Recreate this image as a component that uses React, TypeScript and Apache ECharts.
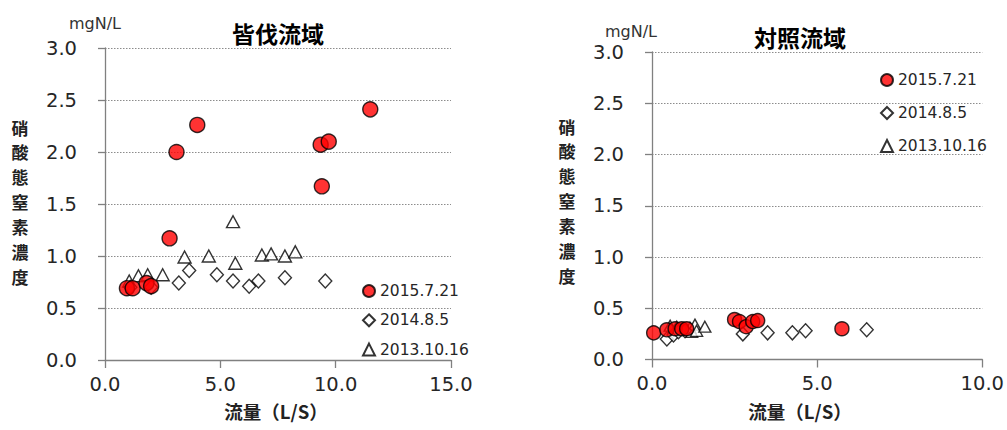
import React, { useEffect, useRef } from "react";
import * as echarts from "echarts";

// ---- data ----
const seriesNames = ["2015.7.21", "2014.8.5", "2013.10.16"];
const yTicks = [0, 0.5, 1.0, 1.5, 2.0, 2.5, 3.0];
const yTitleChars = ["硝", "酸", "態", "窒", "素", "濃", "度"];

// 皆伐流域 (left)
const leftRedX = [0.95, 1.2, 1.8, 2.0, 2.8, 3.1, 4.0, 9.35, 9.7, 9.4, 11.5];
const leftRedY = [0.69, 0.69, 0.74, 0.71, 1.17, 2.0, 2.26, 2.07, 2.1, 1.67, 2.41];
const leftDiaX = [1.1, 2.0, 3.2, 3.65, 4.85, 5.55, 6.25, 6.65, 7.8, 9.55];
const leftDiaY = [0.7, 0.7, 0.74, 0.86, 0.82, 0.76, 0.71, 0.76, 0.79, 0.76];
const leftTriX = [1.05, 1.45, 1.85, 2.5, 3.45, 4.5, 5.55, 5.65, 6.8, 7.2, 7.8, 8.25];
const leftTriY = [0.76, 0.81, 0.82, 0.82, 0.99, 1.0, 1.33, 0.93, 1.01, 1.02, 1.0, 1.04];

// 対照流域 (right)
const rightRedX = [0.05, 0.45, 0.7, 0.9, 1.05, 2.5, 2.65, 2.85, 3.05, 3.2, 5.75];
const rightRedY = [0.26, 0.29, 0.3, 0.3, 0.3, 0.39, 0.37, 0.32, 0.37, 0.38, 0.3];
const rightDiaX = [0.45, 0.65, 0.8, 1.0, 2.75, 3.5, 4.25, 4.65, 6.5];
const rightDiaY = [0.2, 0.24, 0.27, 0.28, 0.25, 0.26, 0.26, 0.28, 0.29];
const rightTriX = [0.55, 0.75, 0.95, 1.15, 1.2, 1.3, 1.35, 1.6];
const rightTriY = [0.33, 0.32, 0.3, 0.31, 0.27, 0.34, 0.28, 0.32];

const zip = (xs: number[], ys: number[]) => xs.map((x, i) => [x, ys[i]]);

const NUM_FONT = "DejaVu Sans";
const CJK_FONT = "Noto Sans CJK JP";

export default function App() {
  const ref = useRef<HTMLDivElement>(null);

  useEffect(() => {
    if (!ref.current) return;
    const chart = echarts.init(ref.current, null, { renderer: "svg" });

    const yAxisBase = (gridIndex: number) => ({
      type: "value",
      gridIndex,
      min: yTicks[0],
      max: yTicks[yTicks.length - 1],
      interval: 0.5,
      axisLine: { show: true, lineStyle: { color: "#808080", width: 1.3 } },
      axisTick: { show: true, length: 7, lineStyle: { color: "#808080", width: 1.3 } },
      axisLabel: {
        margin: 28,
        fontSize: 19.5,
        fontFamily: NUM_FONT,
        color: "#262626",
        formatter: (v: number) => v.toFixed(1),
      },
      splitLine: { show: true, lineStyle: { color: "#8c8c8c", type: [1.5, 1.5], width: 1 } },
    });

    const xAxisBase = (gridIndex: number, max: number) => ({
      type: "value",
      gridIndex,
      min: 0,
      max,
      interval: 5,
      axisLine: { show: true, onZero: false, lineStyle: { color: "#808080", width: 1.3 } },
      axisTick: { show: true, inside: false, length: 8, lineStyle: { color: "#808080", width: 1.3 } },
      axisLabel: {
        margin: 14,
        fontSize: 19.5,
        fontFamily: NUM_FONT,
        color: "#262626",
        formatter: (v: number) => v.toFixed(1),
      },
      splitLine: { show: false },
    });

    const redStyle = { color: "#ff0000", borderColor: "#000", borderWidth: 1.4 };
    const openStyle = { color: "#ffffff", borderColor: "#000", borderWidth: 1.4 };

    const mk = (name: string, idx: number, data: number[][], symbol: string, size: any, style: any, z: number) => ({
      type: "scatter",
      name,
      xAxisIndex: idx,
      yAxisIndex: idx,
      data,
      symbol,
      symbolSize: size,
      itemStyle: style,
      z,
    });

    const legendBase = (left: number, top: number, gap: number) => ({
      left,
      top,
      padding: 0,
      orient: "vertical",
      itemWidth: 12,
      itemHeight: 12,
      itemGap: gap,
      selectedMode: false,
      textStyle: { fontFamily: NUM_FONT, fontSize: 15.5, color: "#262626", lineHeight: 16 },
      data: seriesNames,
    });

    const verticalTitle = (cx: number, firstY: number) =>
      yTitleChars.map((ch, i) => ({
        type: "text",
        x: cx,
        y: firstY + i * 24.9,
        style: {
          text: ch,
          fontFamily: CJK_FONT,
          fontWeight: "bold",
          fontSize: 17,
          fill: "#222",
          align: "center",
          verticalAlign: "middle",
        },
      }));

    chart.setOption({
      animation: false,
      grid: [
        { left: 105, top: 48, width: 346, height: 312 },
        { left: 652, top: 52, width: 334, height: 307.5 },
      ],
      xAxis: [xAxisBase(0, 15), xAxisBase(1, 10)],
      yAxis: [yAxisBase(0), yAxisBase(1)],
      legend: [legendBase(362, 283, 13.3), legendBase(880, 72, 17)],
      series: [
        mk(seriesNames[2], 0, zip(leftTriX, leftTriY), "triangle", [13, 12], openStyle, 2),
        mk(seriesNames[1], 0, zip(leftDiaX, leftDiaY), "diamond", [13, 14], openStyle, 3),
        mk(seriesNames[0], 0, zip(leftRedX, leftRedY), "circle", 15, redStyle, 4),
        mk(seriesNames[2], 1, zip(rightTriX, rightTriY), "triangle", [12, 11], openStyle, 2),
        mk(seriesNames[1], 1, zip(rightDiaX, rightDiaY), "diamond", [13, 14], openStyle, 3),
        mk(seriesNames[0], 1, zip(rightRedX, rightRedY), "circle", 14, redStyle, 4),
      ],
      graphic: [
        { type: "text", x: 69, y: 23, style: { text: "mgN/L", fontFamily: NUM_FONT, fontSize: 16, fill: "#333", verticalAlign: "middle" } },
        { type: "text", x: 605, y: 31, style: { text: "mgN/L", fontFamily: NUM_FONT, fontSize: 16, fill: "#333", verticalAlign: "middle" } },
        { type: "text", x: 278, y: 33, style: { text: "皆伐流域", fontFamily: CJK_FONT, fontWeight: "bold", fontSize: 23, fill: "#000", align: "center", verticalAlign: "middle" } },
        { type: "text", x: 800, y: 37, style: { text: "対照流域", fontFamily: CJK_FONT, fontWeight: "bold", fontSize: 23, fill: "#000", align: "center", verticalAlign: "middle" } },
        ...verticalTitle(20, 127),
        ...verticalTitle(567, 126),
        { type: "text", x: 276, y: 411, style: { text: "流量（L/S）", fontFamily: CJK_FONT, fontWeight: "bold", fontSize: 18.5, fill: "#222", align: "center", verticalAlign: "middle" } },
        { type: "text", x: 800, y: 411, style: { text: "流量（L/S）", fontFamily: CJK_FONT, fontWeight: "bold", fontSize: 18.5, fill: "#222", align: "center", verticalAlign: "middle" } },
      ],
    });

    return () => chart.dispose();
  }, []);

  return (
    <div
      ref={ref}
      style={{ position: "fixed", left: 0, top: 0, width: 1007, height: 430, background: "#fff" }}
    />
  );
}
